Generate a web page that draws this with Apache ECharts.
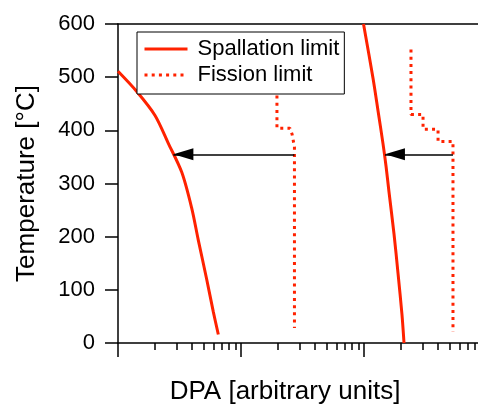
<!DOCTYPE html>
<html>
<head>
<meta charset="utf-8">
<script src="https://cdn.jsdelivr.net/npm/echarts@6/dist/echarts.min.js"></script>
<style>html,body{margin:0;padding:0;background:#fff}#c{width:478px;height:410px}</style>
</head>
<body>
<div id="c"></div>
<script>
// Spallation limit, low-dose branch
const spallLowDpa  = [1.0, 1.42, 2.0, 2.56, 3.30, 3.97, 4.50, 5.26, 5.95, 6.54];
const spallLowTemp = [511, 473, 428, 376, 321, 254, 193, 120, 59, 16];
// Spallation limit, high-dose branch
const spallHighDpa  = [99.1, 118.4, 130, 142.7, 151, 159.7, 175.4, 188.9, 203.7, 211.5];
const spallHighTemp = [600, 498, 437, 375, 333, 284, 205, 132, 53, 0];
// Fission limit, low-dose branch
const fisLowDpa  = [19.6, 19.6, 25.0, 26.0, 27.2, 27.2];
const fisLowTemp = [479, 404, 404, 393, 369, 28];
// Fission limit, high-dose branch
const fisHighDpa  = [241, 241, 302, 302, 400, 400, 529, 529];
const fisHighTemp = [552, 430, 430, 402, 402, 379, 379, 21];
// Arrows (from fission limit to spallation limit)
const arrowTemp = 355;
const arrowFrom = [27.2, 529];
const arrowTo   = [2.82, 148];
// Axes
const yTicks = [0, 100, 200, 300, 400, 500, 600];
const xMajorTicks = [1, 10, 100];
const xMinorTicks = [2,3,4,5,6,7,8,9,20,30,40,50,60,70,80,90,200,300,400,500,600,700,800];
const xMin = 1, xMax = 845;

const zip = (a, b) => a.map((v, i) => [v, b[i]]);
const RED = '#ff2200';
const FONT = 'Liberation Sans, Arial, sans-serif';

const chart = echarts.init(document.getElementById('c'), null, {renderer: 'canvas'});
chart.setOption({
  animation: false,
  backgroundColor: '#fff',
  grid: {left: 118, right: 0, top: 24, bottom: 58, containLabel: false},
  legend: {
    data: ['Spallation limit', 'Fission limit'],
    orient: 'vertical',
    left: 137, top: 32,
    padding: [6, 5, 8, 6],
    itemWidth: 43, itemHeight: 14, itemGap: 4,
    borderColor: '#000', borderWidth: 1, borderRadius: 0,
    backgroundColor: '#fff',
    itemStyle: {opacity: 0},
    lineStyle: {width: 3, opacity: 1},
    textStyle: {fontSize: 22, color: '#000', fontFamily: FONT, lineHeight: 21, padding: [0, 0, 0, 5]}
  },
  xAxis: [
    {
      type: 'log', min: xMin, max: xMax, position: 'bottom',
      axisLine: {show: true, lineStyle: {color: '#000', width: 1.5}},
      axisTick: {show: true, inside: false, length: 14, customValues: xMajorTicks, lineStyle: {color: '#000', width: 1.5}},
      axisLabel: {show: false},
      splitLine: {show: false},
      name: 'DPA [arbitrary units]', nameLocation: 'middle', nameGap: 36,
      nameTextStyle: {fontSize: 26, color: '#000', fontFamily: FONT, padding: [0, 26, 0, 0]}
    },
    {
      type: 'log', min: xMin, max: xMax, position: 'bottom',
      axisLine: {show: false},
      axisTick: {show: true, inside: false, length: 7, customValues: xMinorTicks, lineStyle: {color: '#000', width: 1.5}},
      axisLabel: {show: false},
      splitLine: {show: false}
    },
    {
      type: 'log', min: xMin, max: xMax, position: 'top',
      axisLine: {show: true, lineStyle: {color: '#000', width: 1.5}},
      axisTick: {show: false}, axisLabel: {show: false}, splitLine: {show: false}
    }
  ],
  yAxis: {
    type: 'value', min: 0, max: 600, interval: 100,
    axisLine: {show: true, lineStyle: {color: '#000', width: 1.5}},
    axisTick: {show: true, inside: false, length: 13, lineStyle: {color: '#000', width: 1.5}},
    axisLabel: {fontSize: 22, color: '#000', fontFamily: FONT, margin: 23,
      formatter: v => yTicks.includes(v) ? String(v) : ''},
    splitLine: {show: false},
    name: 'Temperature [°C]', nameLocation: 'middle', nameGap: 78,
    nameTextStyle: {fontSize: 26, color: '#000', fontFamily: FONT}
  },
  series: [
    {name: 'Spallation limit', type: 'line', data: zip(spallLowDpa, spallLowTemp), symbol: 'none', smooth: 0.3,
     lineStyle: {color: RED, width: 3}, itemStyle: {color: RED}},
    {name: 'Spallation limit', type: 'line', data: zip(spallHighDpa, spallHighTemp), symbol: 'none', smooth: 0.3,
     lineStyle: {color: RED, width: 3}, itemStyle: {color: RED}},
    {name: 'Fission limit', type: 'line', data: zip(fisLowDpa, fisLowTemp), symbol: 'none',
     lineStyle: {color: RED, width: 3, type: [3, 4.2], cap: 'butt'}, itemStyle: {color: RED}},
    {name: 'Fission limit', type: 'line', data: zip(fisHighDpa, fisHighTemp), symbol: 'none',
     lineStyle: {color: RED, width: 3, type: [3, 4.2], cap: 'butt'}, itemStyle: {color: RED}},
    {name: 'arrows', type: 'line', data: [], symbol: 'none',
     markLine: {
       silent: true, animation: false,
       symbol: ['none', 'triangle'], symbolSize: [12, 20],
       label: {show: false},
       lineStyle: {color: '#000', width: 1.5, type: 'solid'},
       itemStyle: {color: '#000'},
       data: arrowFrom.map((f, i) => [{coord: [f, arrowTemp]}, {coord: [arrowTo[i], arrowTemp], symbolOffset: [0, 10]}])
     }}
  ]
});
</script>
</body>
</html>
